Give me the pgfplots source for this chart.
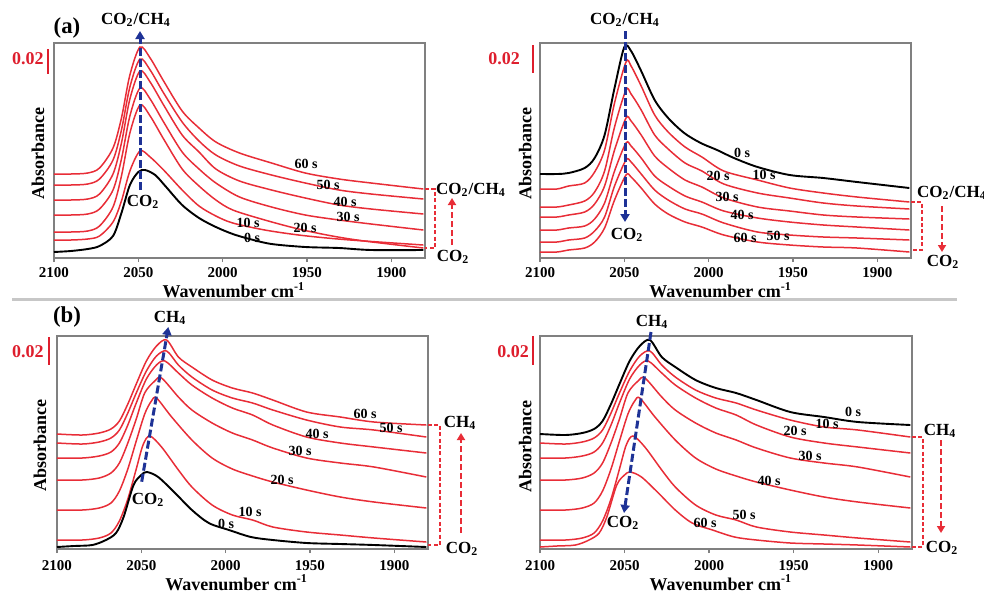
\documentclass[border=0pt]{standalone}
\usepackage{pgfplots}
\pgfplotsset{compat=1.18}
\usepackage{pgfplotstable}
\usepackage{fontspec}
\setmainfont{Liberation Serif}
\usetikzlibrary{arrows.meta}
\definecolor{cred}{RGB}{232,45,55}
\definecolor{lred}{RGB}{222,30,45}
\definecolor{cblue}{RGB}{30,50,150}
\definecolor{fgray}{RGB}{128,128,128}

% panel (b) spectra, shared by both (b) panels
\pgfplotstableread{
x y
2100 2
2090 3
2079 4
2071 9
2065 16
2060.5 32
2054.6 64
2050 74
2046.7 77
2040 72
2030 56
2020 39
2010 26
1998 19
1985 12
1972 9
1952 6
1932 5
1912 4
1881 2
}\bA
\pgfplotstableread{
x y
2100 9
2085 9
2075 11
2068 16
2063 28
2058 50
2053 80
2049 104
2045 113
2038 102
2028 79
2020 62
2008 44
1996 34
1984 29
1972 22
1952 17
1932 14
1912 11
1881 7
}\bB
\pgfplotstableread{
x y
2100 39
2085 39
2075 41
2068 46
2063 58
2058 80
2053 108
2048 135
2044 148
2041 151
2032 132
2020 109
2008 91
1996 80
1984 73
1972 67
1952 59
1932 52
1912 47
1881 41
}\bC
\pgfplotstableread{
x y
2100 69
2085 69
2075 71
2068 76
2063 86
2058 106
2053 130
2048 156
2042 168
2038 171
2028 152
2020 139
2008 126
1996 116
1984 109
1972 101
1952 91
1932 86
1912 82
1881 72
}\bD
\pgfplotstableread{
x y
2100 91
2085 91
2075 93
2068 97
2063 106
2058 124
2053 146
2047 170
2041 184
2036 188
2028 176
2020 164
2008 151
1996 141
1984 134
1972 124
1952 112
1932 106
1912 102
1881 96
}\bE
\pgfplotstableread{
x y
2100 106
2085 105
2075 107
2068 111
2063 119
2058 136
2053 156
2047 178
2041 193
2035 198
2028 184
2020 172
2008 159
1996 151
1984 146
1972 139
1952 129
1932 122
1912 119
1881 112
}\bF
\pgfplotstableread{
x y
2100 115
2085 114
2075 116
2068 120
2063 128
2058 145
2053 165
2047 188
2041 203
2035 209
2028 192
2020 182
2008 169
1996 161
1984 156
1972 149
1952 137
1932 132
1912 127
1881 124
}\bG

\pgfplotsset{
  panel/.style={
    scale only axis, width=185.5pt, height=107.5pt,
    x dir=reverse, xmin=1880, xmax=2100, ymin=0, ymax=215,
    axis line style={fgray, line width=0.7pt},
    xtick={1900,1950,2000,2050,2100},
    xticklabels={1900,1950,2000,2050,2100},
    ytick=\empty, tick pos=left, tick align=outside, major tick length=2pt,
    tick style={fgray, line width=0.6pt},
    xticklabel style={font=\bfseries\fontsize{7.5}{8}\selectfont, inner sep=0.5pt, yshift=-2pt},
    label style={font=\bfseries\fontsize{9}{10}\selectfont, inner sep=0.5pt},
    xlabel={Wavenumber cm\textsuperscript{-1}},
    ylabel={Absorbance},
    clip=false,
  },
  rc/.style={cred, line width=0.75pt, smooth, no markers},
  bc/.style={black, line width=0.95pt, smooth, no markers},
}
\tikzset{
  lab/.style={font=\bfseries\fontsize{7}{8}\selectfont, inner sep=0pt},
  big/.style={font=\bfseries\fontsize{8.5}{10}\selectfont, inner sep=0pt},
  sc/.style={font=\bfseries\fontsize{9}{10}\selectfont, inner sep=0pt, text=lred},
  barr/.style={cblue, line width=1.5pt, dash pattern=on 4pt off 1.6pt, -{Triangle[length=4pt,width=4.5pt]}},
  rarr/.style={cred, line width=1.2pt, dash pattern=on 3pt off 1.5pt, -{Triangle[length=3.5pt,width=4pt]}},
  brk/.style={cred, line width=0.6pt, dash pattern=on 2pt off 1.2pt},
}

\begin{document}
\begin{tikzpicture}
\path[use as bounding box] (0,0) rectangle (492pt,295.5pt);

% ---------- (a) left ----------
\begin{axis}[panel, at={(27pt,166.5pt)}, anchor=south west,
  ylabel style={at={(axis description cs:-0.043,0.488)}, anchor=center},
  xlabel style={at={(axis description cs:0.485,-0.149)}, anchor=center}]
\addplot[rc] coordinates {(2100,84)(2090,84)(2080,85)(2073,90)(2065,110)(2060,140)(2055,183)(2049,211)(2043,200)(2035,177)(2024,147)(2014,130)(2004,116)(1990,105)(1971,95)(1951,85)(1931,79)(1912,75)(1881,69)};
\addplot[rc] coordinates {(2100,73)(2090,73)(2080,74)(2073,79)(2065,98)(2060,128)(2055,171)(2049,199)(2043,188)(2035,165)(2024,136)(2014,117)(2004,103)(1990,92)(1971,83)(1951,75)(1931,68)(1912,64)(1881,59)};
\addplot[rc] coordinates {(2100,58)(2090,58)(2080,59)(2073,64)(2065,84)(2060,115)(2055,159)(2049,187)(2043,176)(2035,153)(2024,123)(2014,106)(2004,89)(1990,77)(1971,68)(1951,60)(1931,53)(1912,49)(1881,44)};
\addplot[rc] coordinates {(2100,43)(2090,43)(2080,44)(2073,49)(2065,68)(2060,99)(2055,142)(2049,170)(2043,159)(2035,136)(2024,106)(2014,89)(2004,75)(1990,61)(1971,51)(1951,43)(1931,38)(1912,34)(1881,28)};
\addplot[rc] coordinates {(2100,26)(2090,26)(2080,27)(2073,32)(2065,51)(2060,82)(2055,125)(2049,153)(2043,142)(2035,119)(2024,89)(2014,72)(2004,58)(1994,48)(1975,38)(1955,29)(1935,22)(1916,17)(1881,10)};
\addplot[rc] coordinates {(2100,18)(2090,18)(2080,19)(2073,22)(2065,36)(2060,57)(2055,87)(2049,107)(2043,101)(2035,88)(2024,68)(2014,52)(2004,42)(1994,35)(1975,28)(1955,23)(1935,19.5)(1916,17)(1881,13)};
\addplot[bc] coordinates {(2100,6)(2090,7)(2080,9)(2073,12)(2065,22)(2060,45)(2055,73)(2050,86)(2046,88)(2040,83)(2034,72)(2024,53)(2014,40)(2004,31)(1994,24)(1984,19)(1971,14)(1951,11)(1931,10)(1912,8)(1881,8)};
\end{axis}

% ---------- (a) right ----------
\begin{axis}[panel, at={(270pt,166.5pt)}, anchor=south west,
  ylabel style={at={(axis description cs:-0.040,0.488)}, anchor=center},
  xlabel style={at={(axis description cs:0.487,-0.149)}, anchor=center}]
\addplot[rc] coordinates {(2100,69)(2090,69)(2083,72)(2073.5,75)(2067.6,86)(2061.7,108)(2055.8,155)(2049,196)(2046,192)(2040,172)(2032,143)(2024,126)(2014,111)(2004,101)(1991,87)(1971,78)(1952,70)(1932,65)(1912,61)(1881,56)};
\addplot[rc] coordinates {(2100,51)(2090,51)(2083,53)(2073.5,57)(2067.6,66)(2061.7,87)(2055.8,131)(2049,168)(2046,164)(2040,148)(2032,123)(2024,109)(2014,95)(2004,87)(1991,74)(1971,65)(1952,60)(1932,55)(1912,52)(1881,49)};
\addplot[rc] coordinates {(2100,41)(2090,41)(2083,43)(2073.5,46)(2067.6,54)(2061.7,72)(2055.8,108)(2049,140)(2046,137)(2040,123)(2032,102)(2024,90)(2014,78)(2004,71)(1991,60)(1971,51)(1952,47)(1932,43)(1912,41)(1881,39)};
\addplot[rc] coordinates {(2100,28)(2090,28)(2083,30)(2073.5,32)(2067.6,39)(2061.7,55)(2055.8,87)(2049,115)(2046,112)(2040,100)(2032,82)(2024,72)(2014,62)(2004,56)(1991,47)(1971,40)(1952,36)(1932,33)(1912,31)(1881,28)};
\addplot[rc] coordinates {(2100,16)(2090,16)(2083,18)(2073.5,20)(2067.6,27)(2061.7,41)(2055.8,72)(2049,98)(2046,96)(2040,84)(2032,68)(2024,58)(2014,49)(2004,44)(1991,35)(1971,26)(1952,23)(1932,21)(1912,20)(1881,18)};
\addplot[rc] coordinates {(2100,6)(2090,6)(2083,8)(2073.5,10)(2067.6,16)(2061.7,30)(2055.8,58)(2049,83)(2046,81)(2040,70)(2032,54)(2024,44)(2014,36)(2004,31)(1991,23)(1971,16)(1952,13)(1932,11)(1912,10)(1881,6)};
\addplot[bc] coordinates {(2100,84)(2090,84)(2083,85)(2073.5,90)(2067.6,100)(2061.7,123)(2055.8,170)(2050,211)(2046,207)(2040,187)(2032,158)(2024,140)(2014.5,125)(2004.7,115)(1995,108)(1985,100)(1971,91)(1952,83)(1932,80)(1912,76)(1881,70)};
\end{axis}

% ---------- (b) left ----------
\begin{axis}[panel, at={(28.5pt,21pt)}, anchor=south west, height=106.5pt, ymax=213,
  xticklabel style={yshift=-1pt},
  ylabel style={at={(axis description cs:-0.046,0.488)}, anchor=center},
  xlabel style={at={(axis description cs:0.484,-0.157)}, anchor=center}]
\addplot[rc] table[x=x,y=y] {\bG};
\addplot[rc] table[x=x,y=y] {\bF};
\addplot[rc] table[x=x,y=y] {\bE};
\addplot[rc] table[x=x,y=y] {\bD};
\addplot[rc] table[x=x,y=y] {\bC};
\addplot[rc] table[x=x,y=y] {\bB};
\addplot[bc] table[x=x,y=y] {\bA};
\end{axis}

% ---------- (b) right ----------
\begin{axis}[panel, at={(270pt,21pt)}, anchor=south west, width=186pt, height=106.5pt, ymax=213,
  xticklabel style={yshift=-1pt},
  ylabel style={at={(axis description cs:-0.040,0.48)}, anchor=center},
  xlabel style={at={(axis description cs:0.486,-0.157)}, anchor=center}]
\addplot[rc] table[x=x,y=y] {\bF};
\addplot[rc] table[x=x,y=y] {\bE};
\addplot[rc] table[x=x,y=y] {\bD};
\addplot[rc] table[x=x,y=y] {\bC};
\addplot[rc] table[x=x,y=y] {\bB};
\addplot[rc] table[x=x,y=y] {\bA};
\addplot[bc] table[x=x,y=y] {\bG};
\end{axis}

% ---------- annotations (reference pixel coordinates) ----------
\begin{scope}[x=0.5pt, y=-0.5pt, yshift=295.5pt]
\draw[black!22, line width=1.5pt] (12,299.5) -- (957,299.5);
\node[font=\bfseries\fontsize{11.4}{12}\selectfont, inner sep=0pt] at (67,28) {(a)};
\node[font=\bfseries\fontsize{11.4}{12}\selectfont, inner sep=0pt] at (67,317) {(b)};

% scale bars
\node[sc] at (28,59) {0.02};   \draw[lred, line width=1.2pt] (48,49) -- (48,74);
\node[sc] at (504,59) {0.02};  \draw[lred, line width=1.2pt] (533,45) -- (533,73);
\node[sc] at (28,352) {0.02};  \draw[lred, line width=1.2pt] (49,337) -- (49,365);
\node[sc] at (513,352) {0.02}; \draw[lred, line width=1.2pt] (533,336) -- (533,365);

% blue arrows and labels
\draw[barr] (140,190) -- (140,31);
\node[big] at (136,20) {CO\textsubscript{2}/CH\textsubscript{4}};
\node[big] at (143,202) {CO\textsubscript{2}};
\draw[barr] (625,31) -- (625,222);
\node[big] at (625,20) {CO\textsubscript{2}/CH\textsubscript{4}};
\node[big] at (627,235) {CO\textsubscript{2}};
\draw[barr] (141.7,481.7) -- (168.3,327);
\node[big] at (170,318) {CH\textsubscript{4}};
\node[big] at (148,500) {CO\textsubscript{2}};
\draw[barr] (651,332) -- (624,513);
\node[big] at (652,322) {CH\textsubscript{4}};
\node[big] at (623,523) {CO\textsubscript{2}};

% time labels
\node[lab] at (306,164) {60 s};
\node[lab] at (328,185) {50 s};
\node[lab] at (345,202) {40 s};
\node[lab] at (348,217) {30 s};
\node[lab] at (305,228) {20 s};
\node[lab] at (248,223) {10 s};
\node[lab] at (252,238) {0 s};

\node[lab] at (742,153) {0 s};
\node[lab] at (764,175) {10 s};
\node[lab] at (718,176) {20 s};
\node[lab] at (727,197) {30 s};
\node[lab] at (742,215) {40 s};
\node[lab] at (778,236) {50 s};
\node[lab] at (745,238) {60 s};

\node[lab] at (365,414) {60 s};
\node[lab] at (391,428) {50 s};
\node[lab] at (317,434) {40 s};
\node[lab] at (300,451) {30 s};
\node[lab] at (282,480) {20 s};
\node[lab] at (250,512) {10 s};
\node[lab] at (226,524) {0 s};

\node[lab] at (853,412) {0 s};
\node[lab] at (827,424) {10 s};
\node[lab] at (795,431) {20 s};
\node[lab] at (810,456) {30 s};
\node[lab] at (769,481) {40 s};
\node[lab] at (744,515) {50 s};
\node[lab] at (705,523) {60 s};

% right-hand brackets
\draw[brk] (425,189) -- (435,189) -- (435,248) -- (425,248);
\node[big] at (471,190) {CO\textsubscript{2}/CH\textsubscript{4}};
\node[big] at (453,257) {CO\textsubscript{2}};
\draw[rarr] (452,245) -- (452,198);

\draw[brk] (911,202) -- (922,202) -- (922,250) -- (911,250);
\node[big] at (952,193) {CO\textsubscript{2}/CH\textsubscript{4}};
\node[big] at (943,262) {CO\textsubscript{2}};
\draw[rarr] (942,206) -- (942,252);

\draw[brk] (428,425) -- (440,425) -- (440,545) -- (428,545);
\node[big] at (460,423) {CH\textsubscript{4}};
\node[big] at (462,549) {CO\textsubscript{2}};
\draw[rarr] (461,533) -- (461,433);

\draw[brk] (912,437) -- (923,437) -- (923,547) -- (912,547);
\node[big] at (940,431) {CH\textsubscript{4}};
\node[big] at (942,548) {CO\textsubscript{2}};
\draw[rarr] (941,440) -- (941,533);
\end{scope}
\end{tikzpicture}
\end{document}
